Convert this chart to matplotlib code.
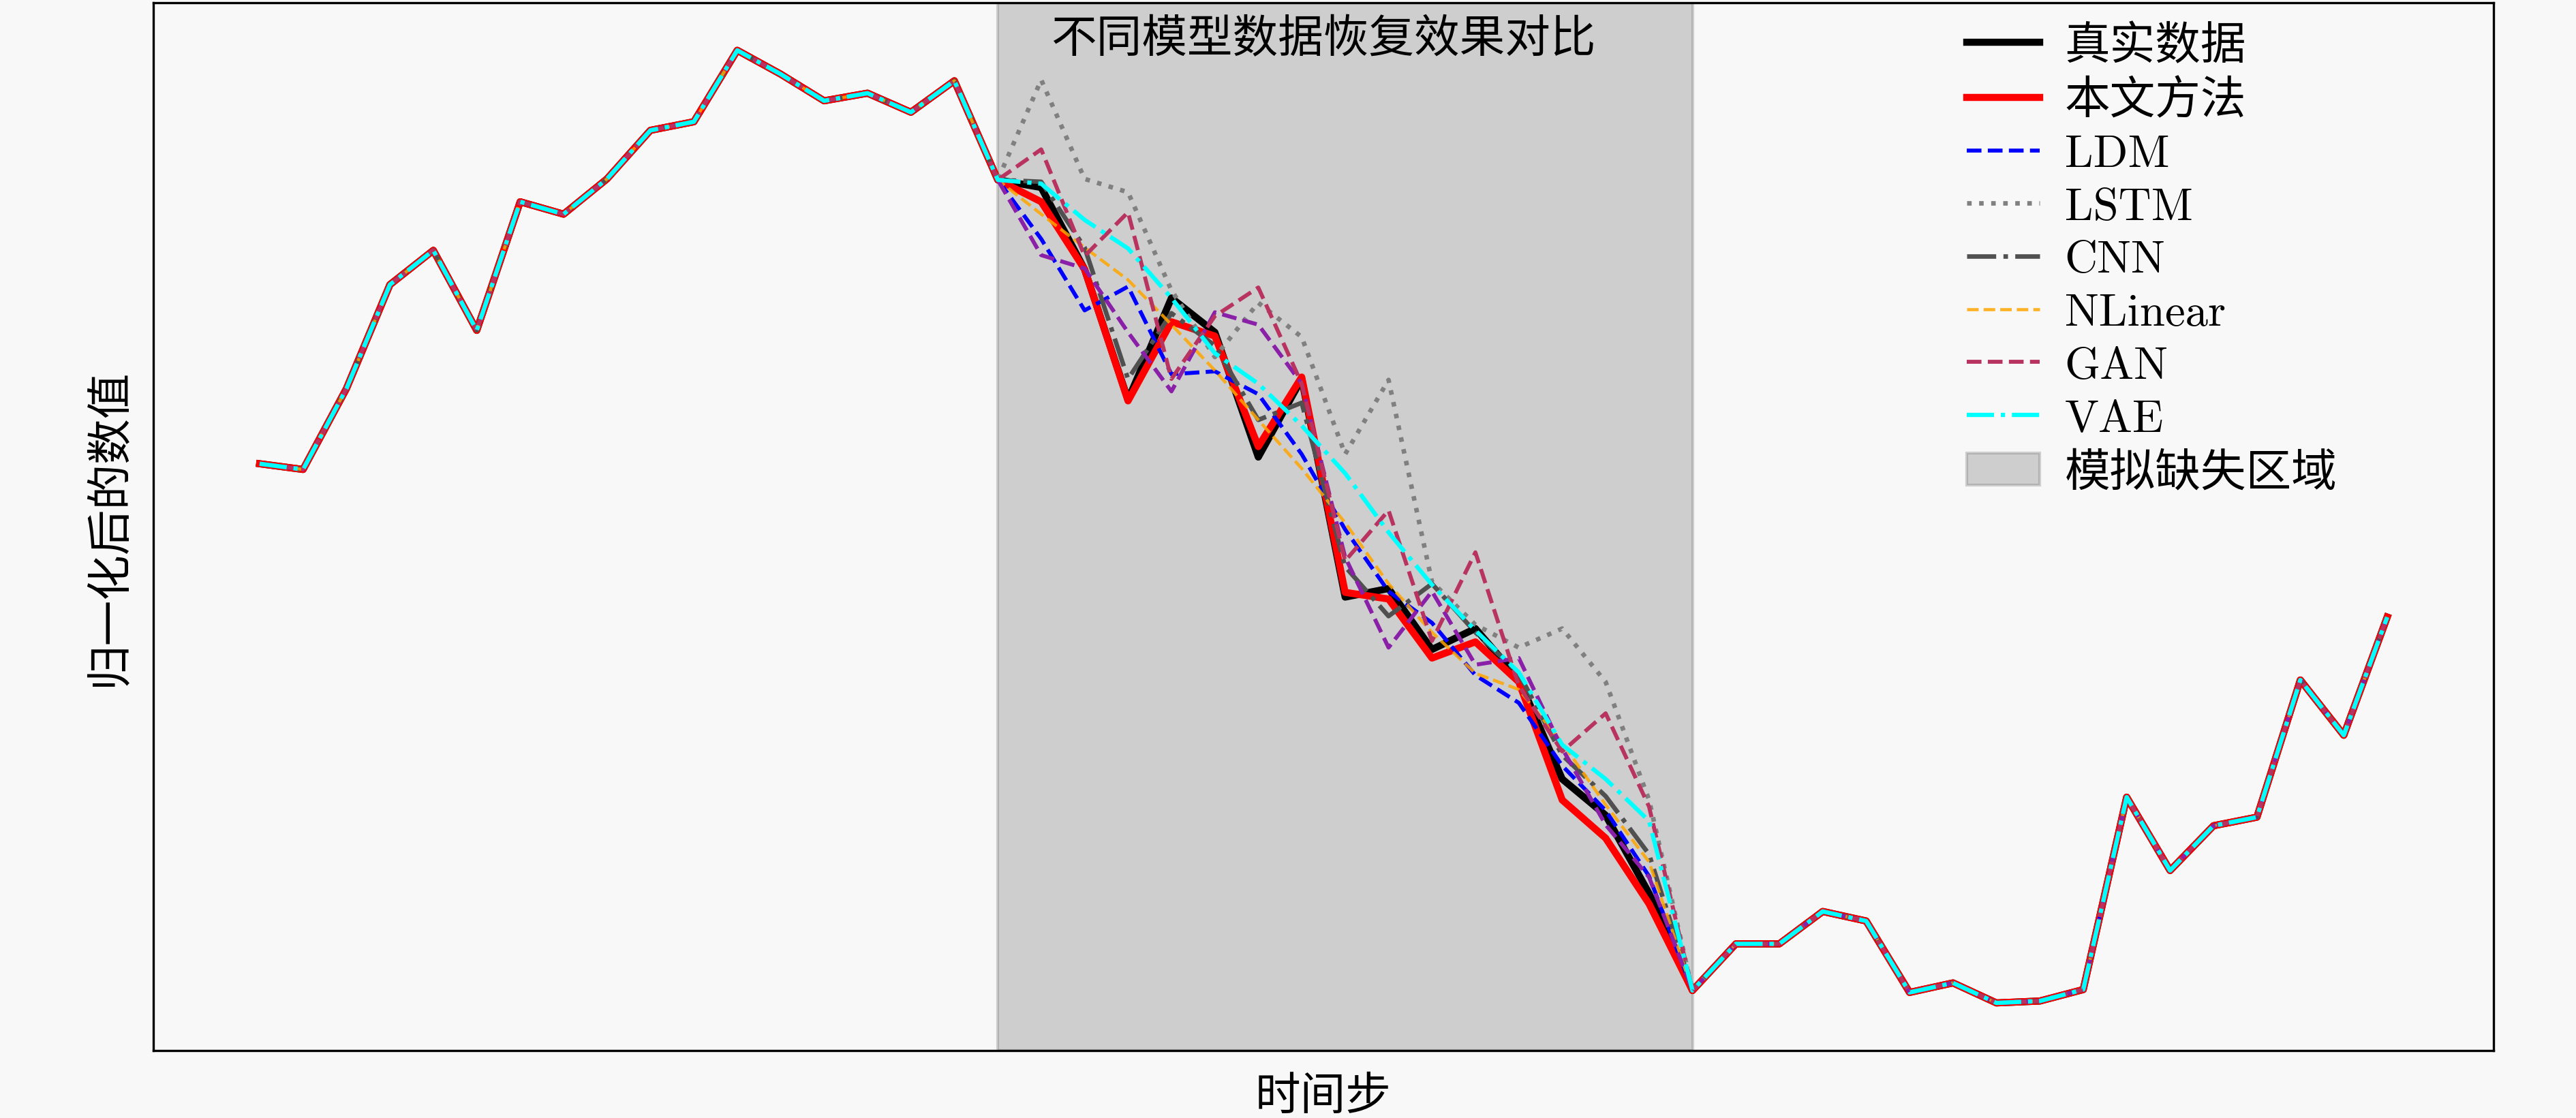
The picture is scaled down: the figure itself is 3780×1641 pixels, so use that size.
import numpy as np
import matplotlib
matplotlib.use('Agg')
import matplotlib.pyplot as plt

# Latin text in Computer Modern, CJK falls back to Noto Sans CJK
plt.rcParams['font.family'] = ['cmr10', 'Noto Sans CJK SC']
plt.rcParams['axes.unicode_minus'] = False

# observed values outside the missing window (same for every model)
left_part = [0.566, 0.560, 0.645, 0.754, 0.790, 0.706, 0.841, 0.828, 0.865,
             0.916, 0.925, 1.000, 0.975, 0.947, 0.955, 0.935, 0.968]
gap_start = 0.864
gap_end = 0.013
right_part = [0.062, 0.062, 0.096, 0.086, 0.011, 0.021, 0.000, 0.002,
              0.014, 0.216, 0.139, 0.186, 0.195, 0.339, 0.281, 0.405]

# values inside the missing window (steps 18..32)
true_gap = [0.856, 0.770, 0.633, 0.740, 0.704, 0.573, 0.655, 0.426,
            0.435, 0.371, 0.393, 0.340, 0.235, 0.197, 0.115]
ours_gap = [0.841, 0.770, 0.632, 0.715, 0.700, 0.584, 0.657, 0.431,
            0.424, 0.362, 0.379, 0.337, 0.213, 0.173, 0.104]
ldm_gap = [0.802, 0.727, 0.752, 0.660, 0.663, 0.639, 0.576, 0.497,
           0.432, 0.399, 0.344, 0.315, 0.249, 0.202, 0.133]
lstm_gap = [0.969, 0.865, 0.851, 0.748, 0.678, 0.735, 0.699, 0.576,
            0.654, 0.442, 0.397, 0.373, 0.393, 0.337, 0.213]
cnn_gap = [0.862, 0.793, 0.655, 0.724, 0.690, 0.612, 0.630, 0.458,
           0.406, 0.440, 0.389, 0.346, 0.260, 0.217, 0.156]
nlinear_gap = [0.828, 0.793, 0.759, 0.712, 0.664, 0.612, 0.561, 0.504,
               0.440, 0.389, 0.346, 0.329, 0.273, 0.208, 0.148]
gan_gap = [0.896, 0.784, 0.830, 0.655, 0.721, 0.751, 0.650, 0.464,
           0.517, 0.380, 0.473, 0.333, 0.264, 0.304, 0.206]
extra_gap = [0.785, 0.771, 0.704, 0.642, 0.725, 0.712, 0.650, 0.468,
             0.373, 0.432, 0.355, 0.362, 0.267, 0.187, 0.132]
vae_gap = [0.860, 0.822, 0.792, 0.740, 0.682, 0.650, 0.606, 0.556,
           0.494, 0.439, 0.391, 0.347, 0.271, 0.235, 0.191]

miss_start, miss_end = 17, 33


def full_series(gap):
    return np.array(left_part + [gap_start] + gap + [gap_end] + right_part)


x = np.arange(len(left_part) + len(true_gap) + 2 + len(right_part))

fig = plt.figure(figsize=(12.6, 5.4733), dpi=300, facecolor='#f8f8f8')
ax = fig.add_axes([0.0595, 0.0603, 0.9085, 0.9367])
ax.set_facecolor('#f8f8f8')

ax.plot(x, full_series(true_gap), color='black', lw=2.5, label='真实数据')
ax.plot(x, full_series(ours_gap), color='red', lw=2.5, label='本文方法')
ax.plot(x, full_series(ldm_gap), color='blue', ls='--', lw=1.4, label='LDM')
ax.plot(x, full_series(lstm_gap), color='gray', ls=':', lw=1.6, label='LSTM')
ax.plot(x, full_series(cnn_gap), color='#505050', ls='-.', lw=1.6, label='CNN')
ax.plot(x, full_series(nlinear_gap), color='orange', ls='--', lw=1.1,
        alpha=0.85, label='NLinear')
ax.plot(x, full_series(extra_gap), color='#8a1fa8', ls='--', lw=1.4,
        label='_nolegend_')
ax.plot(x, full_series(gan_gap), color='#b8335f', ls='--', lw=1.4, label='GAN')
ax.plot(x, full_series(vae_gap), color='cyan', ls='-.', lw=1.5, label='VAE')

# shaded area for the simulated gap
ax.axvspan(miss_start, miss_end, color='gray', alpha=0.35, zorder=0,
           label='模拟缺失区域')

ax.set_xticks([])
ax.set_yticks([])
ax.set_xlabel('时间步', fontsize=16, labelpad=9)
ax.set_ylabel('归一化后的数值', fontsize=16, labelpad=8)
ax.set_title('不同模型数据恢复效果对比', fontsize=16, y=0.953, pad=0)

ax.legend(loc='upper left', bbox_to_anchor=(0.775, 0.979), frameon=False,
          fontsize=16, borderaxespad=0, borderpad=0, handlelength=1.6,
          handletextpad=0.55, labelspacing=0.27)

fig.savefig('out.png', dpi=300, facecolor='#f8f8f8')
